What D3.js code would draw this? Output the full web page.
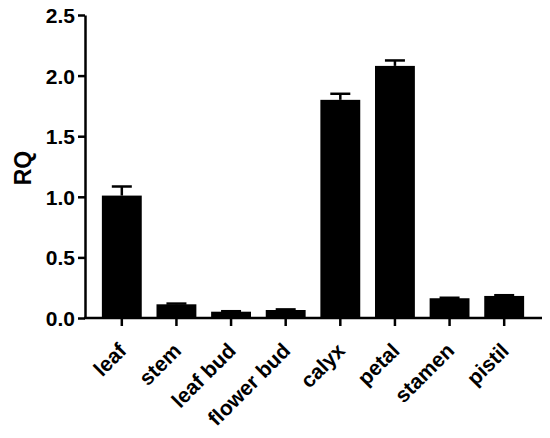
<!DOCTYPE html>
<html lang="en">
<head>
<meta charset="UTF-8">
<title>RQ</title>
<script src="https://d3js.org/d3.v7.min.js"></script>
<style>
  body { margin: 0; background: #fff; }
  text { font-family: "Liberation Sans", Arial, sans-serif; font-weight: bold; }
</style>
</head>
<body>
<script>
const tissues = ["leaf", "stem", "leaf bud", "flower bud", "calyx", "petal", "stamen", "pistil"];
const rq = [1.01, 0.113, 0.052, 0.066, 1.80, 2.08, 0.163, 0.182];
const errs = [0.075, 0.006, 0.004, 0.005, 0.05, 0.045, 0.004, 0.006];
const yTicks = [0, 0.5, 1.0, 1.5, 2.0, 2.5];

const width = 550, height = 438;
const svg = d3.select("body").append("svg")
    .attr("width", width)
    .attr("height", height);

const x = d3.scaleBand()
    .domain(tissues)
    .range([94.5, 531.5])
    .paddingInner(0.27)
    .paddingOuter(0.135);

const y = d3.scaleLinear()
    .domain([0, 2.5])
    .range([318, 15]);

// bars
svg.append("g").selectAll("rect")
    .data(tissues)
    .join("rect")
    .attr("x", d => x(d))
    .attr("width", x.bandwidth())
    .attr("y", (d, i) => y(rq[i]))
    .attr("height", (d, i) => y(0) - y(rq[i]))
    .attr("fill", "#000");

// error bars (upper only)
const eb = svg.append("g").attr("stroke", "#000").attr("stroke-width", 2.5);
tissues.forEach((d, i) => {
  const cx = x(d) + x.bandwidth() / 2;
  const top = y(rq[i] + errs[i]);
  eb.append("line").attr("x1", cx).attr("x2", cx).attr("y1", y(rq[i])).attr("y2", top);
  eb.append("line").attr("x1", cx - 10).attr("x2", cx + 10).attr("y1", top).attr("y2", top);
});

// y axis
const yAxis = svg.append("g")
    .attr("transform", "translate(85,0)")
    .call(d3.axisLeft(y).tickValues(yTicks).tickFormat(d3.format(".1f")).tickSize(7).tickSizeOuter(0));
yAxis.select(".domain").attr("stroke-width", 2.5);
yAxis.selectAll(".tick line").attr("stroke-width", 2.5);
yAxis.selectAll(".tick text")
    .style("font-size", "21px")
    .attr("fill", "#000")
    .attr("x", -10)
    .attr("dy", "0.36em");

// x axis
const xAxis = svg.append("g")
    .attr("transform", "translate(0,318)")
    .call(d3.axisBottom(x).tickSize(8).tickSizeOuter(0));
xAxis.select(".domain").remove();
xAxis.append("line")
    .attr("x1", 84).attr("x2", 542)
    .attr("stroke", "#000").attr("stroke-width", 2.5);
xAxis.selectAll(".tick line").attr("stroke-width", 2.5);
xAxis.selectAll(".tick text")
    .style("font-size", "21px")
    .attr("fill", "#000")
    .attr("text-anchor", "end")
    .attr("x", 0).attr("y", 0).attr("dy", 0)
    .attr("transform", "translate(6,34) rotate(-45)");

// y label
svg.append("text")
    .attr("transform", "translate(31,168) rotate(-90)")
    .attr("text-anchor", "middle")
    .style("font-size", "23px")
    .text("RQ");
</script>
</body>
</html>
